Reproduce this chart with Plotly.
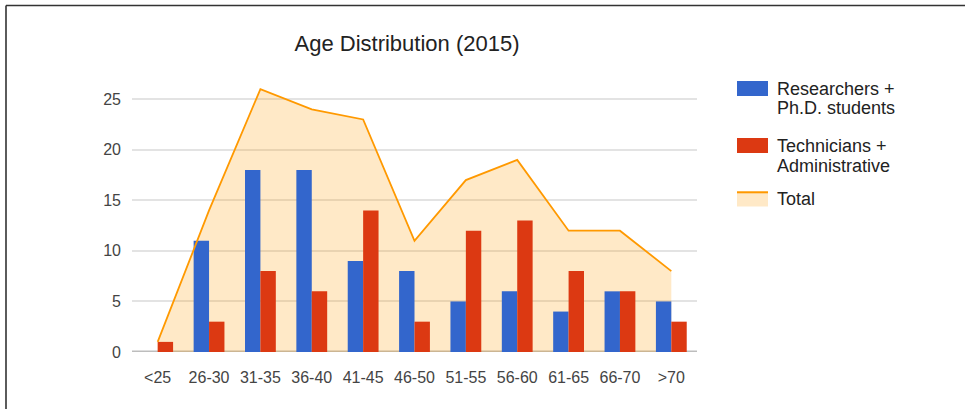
import plotly.graph_objects as go

categories = ["<25", "26-30", "31-35", "36-40", "41-45", "46-50", "51-55", "56-60", "61-65", "66-70", ">70"]
researchers = [0, 11, 18, 18, 9, 8, 5, 6, 4, 6, 5]
technicians = [1, 3, 8, 6, 14, 3, 12, 13, 8, 6, 3]
total = [1, 14, 26, 24, 23, 11, 17, 19, 12, 12, 8]
series_names = ["Researchers +\nPh.D. students", "Technicians +\nAdministrative", "Total"]
y_ticks = [0, 5, 10, 15, 20, 25]

BLUE = "#3366cc"
RED = "#dc3912"
ORANGE = "#ff9900"
FILL = "rgba(255,153,0,0.22)"
FONT = "Arial, Liberation Sans, sans-serif"

W, H = 965, 409
L, R, T, B = 132, 268, 79, 57
pw, ph = W - L - R, H - T - B


def px(x):
    return (x - L) / pw


def py(y):
    return (H - B - y) / ph


yr = [0, 27]

fig = go.Figure()
# area fill (bottom layer)
fig.add_trace(go.Scatter(x=categories, y=total, mode="lines", fill="tozeroy",
                         fillcolor=FILL, line=dict(width=0, color=ORANGE),
                         hoverinfo="skip", showlegend=False, xaxis="x", yaxis="y"))
# bars (overlay axes so they sit above the fill)
fig.add_trace(go.Bar(x=categories, y=researchers, name=series_names[0].replace("\n", " "),
                     marker=dict(color=BLUE, line=dict(width=0)), xaxis="x2", yaxis="y2",
                     showlegend=False))
fig.add_trace(go.Bar(x=categories, y=technicians, name=series_names[1].replace("\n", " "),
                     marker=dict(color=RED, line=dict(width=0)), xaxis="x2", yaxis="y2",
                     showlegend=False))
# total line on top
fig.add_trace(go.Scatter(x=categories, y=total, mode="lines", name=series_names[2],
                         line=dict(color=ORANGE, width=1.8), xaxis="x2", yaxis="y2",
                         showlegend=False))

shapes = []
annotations = []
# baseline
shapes.append(dict(type="line", xref="paper", yref="y", x0=0, x1=1, y0=0, y1=0,
                   line=dict(color="#bdbdbd", width=3), layer="below"))
# frame
shapes.append(dict(type="line", xref="paper", yref="paper", x0=px(6), x1=px(966),
                   y0=py(5.5), y1=py(5.5), line=dict(color="#333333", width=1.6)))
shapes.append(dict(type="line", xref="paper", yref="paper", x0=px(6), x1=px(6),
                   y0=py(5.5), y1=py(410), line=dict(color="#333333", width=1.6)))

# custom legend
sw_x0, sw_x1 = 737, 768
legend_rows = [(81, BLUE, "box"), (138, RED, "box"), (191.5, ORANGE, "line")]
for (ytop, color, kind), name in zip(legend_rows, series_names):
    if kind == "box":
        shapes.append(dict(type="rect", xref="paper", yref="paper", x0=px(sw_x0), x1=px(sw_x1),
                           y0=py(ytop), y1=py(ytop + 15), fillcolor=color, line=dict(width=0)))
    else:
        shapes.append(dict(type="rect", xref="paper", yref="paper", x0=px(sw_x0), x1=px(sw_x1),
                           y0=py(ytop), y1=py(ytop + 15), fillcolor=FILL, line=dict(width=0)))
        shapes.append(dict(type="line", xref="paper", yref="paper", x0=px(sw_x0), x1=px(sw_x1),
                           y0=py(ytop + 0.8), y1=py(ytop + 0.8), line=dict(color=color, width=2)))
    for i, line in enumerate(name.split("\n")):
        annotations.append(dict(text=line, xref="paper", yref="paper", x=px(775),
                                y=py(ytop + 7.5 + i * 20), xanchor="left", yanchor="middle",
                                showarrow=False, font=dict(family=FONT, size=18, color="#222222")))

fig.update_layout(
    width=W, height=H,
    margin=dict(l=L, r=R, t=T, b=B, pad=0),
    paper_bgcolor="white", plot_bgcolor="rgba(0,0,0,0)",
    barmode="group", bargap=0.4, bargroupgap=0,
    title=dict(text="Age Distribution (2015)", x=407 / W, xanchor="center",
               y=1 - 43 / H, yanchor="middle", yref="container",
               font=dict(family=FONT, size=22, color="#222222")),
    font=dict(family=FONT),
    showlegend=False,
    xaxis=dict(type="category", categoryorder="array", categoryarray=categories,
               range=[-0.5, len(categories) - 0.5], showgrid=False, zeroline=False,
               showline=False, ticks="", ticklabelstandoff=14,
               tickfont=dict(family=FONT, size=16, color="#444444")),
    yaxis=dict(range=yr, tickvals=y_ticks, showgrid=True, gridcolor="#e3e3e3", gridwidth=1.5,
               zeroline=False, showline=False, ticks="", ticklabelstandoff=10,
               tickfont=dict(family=FONT, size=16, color="#444444")),
    xaxis2=dict(type="category", categoryorder="array", categoryarray=categories,
                range=[-0.5, len(categories) - 0.5], overlaying="x", visible=False),
    yaxis2=dict(range=yr, overlaying="y", visible=False),
    shapes=shapes, annotations=annotations,
)

fig.write_html("out.html", config={"displayModeBar": False},
               post_script="document.body.style.margin='0';document.body.style.overflow='hidden';")
